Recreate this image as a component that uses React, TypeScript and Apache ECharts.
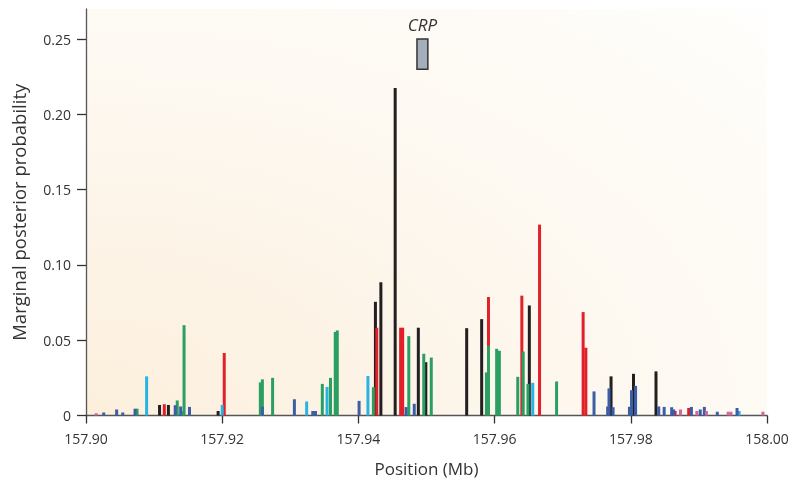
import React, { useEffect, useRef } from "react";
import * as echarts from "echarts";

const xTicks = [157.9, 157.92, 157.94, 157.96, 157.98, 158.0];
const yTicks = [0, 0.05, 0.1, 0.15, 0.2, 0.25];

const blackPos = [157.9108, 157.9121, 157.9194, 157.9425, 157.9433, 157.9454, 157.9488, 157.9499, 157.9559, 157.9581, 157.9651, 157.9771, 157.9804, 157.9837];
const blackVal = [0.007, 0.007, 0.003, 0.0755, 0.0885, 0.2176, 0.0583, 0.0354, 0.058, 0.064, 0.0731, 0.026, 0.0277, 0.0293];

const redPos = [157.9115, 157.9203, 157.9427, 157.9462, 157.9465, 157.9591, 157.964, 157.9666, 157.973, 157.9734, 157.9865, 157.9885];
const redVal = [0.0075, 0.0415, 0.0583, 0.0583, 0.0583, 0.0787, 0.0796, 0.1268, 0.0687, 0.045, 0.003, 0.005];

const greenPos = [157.9075, 157.9134, 157.9142, 157.9144, 157.9256, 157.9259, 157.9274, 157.9347, 157.9359, 157.9366, 157.9369, 157.9422, 157.9474, 157.9496, 157.9507, 157.9588, 157.9591, 157.9603, 157.9607, 157.9634, 157.9642, 157.9649, 157.9691];
const greenVal = [0.0045, 0.01, 0.003, 0.06, 0.022, 0.024, 0.025, 0.021, 0.025, 0.0555, 0.0565, 0.0188, 0.0527, 0.041, 0.0385, 0.0286, 0.0463, 0.0443, 0.043, 0.0257, 0.0425, 0.021, 0.0226];

const cyanPos = [157.9089, 157.92, 157.9324, 157.9354, 157.9414, 157.9656, 157.9959];
const cyanVal = [0.026, 0.007, 0.0093, 0.019, 0.0262, 0.0217, 0.003];

const bluePos = [157.9026, 157.9045, 157.9054, 157.9072, 157.9131, 157.9139, 157.9152, 157.9259, 157.9306, 157.9333, 157.9337, 157.9401, 157.947, 157.9482, 157.9746, 157.9766, 157.9768, 157.9774, 157.9798, 157.9801, 157.9807, 157.9841, 157.9849, 157.986, 157.9863, 157.9889, 157.9902, 157.9908, 157.9927, 157.9956];
const blueVal = [0.002, 0.004, 0.002, 0.0045, 0.0068, 0.006, 0.0057, 0.0058, 0.0108, 0.003, 0.003, 0.0097, 0.0056, 0.0078, 0.016, 0.006, 0.018, 0.0055, 0.0058, 0.0168, 0.0197, 0.006, 0.0057, 0.0055, 0.004, 0.0057, 0.004, 0.0057, 0.0025, 0.005];

const pinkPos = [157.9015, 157.9873, 157.9897, 157.9911, 157.9943, 157.9947, 157.9994];
const pinkVal = [0.0015, 0.004, 0.003, 0.003, 0.0025, 0.0025, 0.0025];

const geneName = "CRP";
const geneStart = 157.9486;
const geneEnd = 157.9502;
const geneLow = 0.23;
const geneHigh = 0.25;

const zip = (p: number[], v: number[]) => p.map((x, i) => [x, v[i]]);

const FONT = "'Open Sans', 'Noto Sans', sans-serif";

export default function App() {
  const ref = useRef<HTMLDivElement>(null);
  useEffect(() => {
    document.body.style.margin = "0";
    const chart = echarts.init(ref.current!, null, { renderer: "svg" });
    const groups = [
      { name: "black", color: "#231f20", data: zip(blackPos, blackVal) },
      { name: "red", color: "#e2202a", data: zip(redPos, redVal) },
      { name: "green", color: "#2a9f62", data: zip(greenPos, greenVal) },
      { name: "cyan", color: "#27b4e4", data: zip(cyanPos, cyanVal) },
      { name: "blue", color: "#3b5ea6", data: zip(bluePos, blueVal) },
      { name: "pink", color: "#d2649e", data: zip(pinkPos, pinkVal) },
    ];
    const series: any[] = groups.map((g, i) => ({
      type: "bar",
      name: g.name,
      data: g.data,
      barWidth: 3,
      barGap: "-100%",
      itemStyle: { color: g.color },
      z: 2 + i,
      silent: true,
    }));
    series[0].markArea = {
      silent: true,
      itemStyle: { color: "#a3aeba", borderColor: "#333333", borderWidth: 1.5 },
      label: {
        show: true,
        position: "top",
        distance: 5,
        fontStyle: "italic",
        fontSize: 17,
        color: "#333333",
        fontFamily: FONT,
      },
      data: [[{ name: geneName, coord: [geneStart, geneHigh] }, { coord: [geneEnd, geneLow] }]],
    };
    chart.setOption({
      animation: false,
      grid: {
        left: 86,
        right: 22,
        top: 9,
        bottom: 65.5,
        outerBoundsMode: "none",
        containLabel: false,
        show: true,
        borderWidth: 0,
        backgroundColor: new echarts.graphic.RadialGradient(0, 1, 1.75, [
          { offset: 0, color: "#fcefdc" },
          { offset: 0.4, color: "#fdf7ee" },
          { offset: 0.8, color: "#fffefc" },
          { offset: 1, color: "#ffffff" },
        ]),
      },
      xAxis: {
        type: "value",
        min: 157.9,
        max: 158.0,
        name: "Position (Mb)",
        nameLocation: "middle",
        nameGap: 44,
        nameTextStyle: { fontSize: 17, color: "#333333", fontFamily: FONT },
        axisLine: { show: true, lineStyle: { color: "#555555", width: 1.3 } },
        axisTick: { show: true, length: 8, lineStyle: { color: "#333333", width: 1.3 }, customValues: xTicks },
        axisLabel: {
          fontSize: 14,
          color: "#333333",
          margin: 16,
          fontFamily: FONT,
          customValues: xTicks,
          formatter: (v: number) => v.toFixed(2),
        },
        splitLine: { show: false },
      },
      yAxis: {
        type: "value",
        min: 0,
        max: 0.27,
        name: "Marginal posterior probability",
        nameLocation: "middle",
        nameGap: 58,
        nameTextStyle: { fontSize: 18.5, color: "#333333", fontFamily: FONT },
        axisLine: { show: true, lineStyle: { color: "#555555", width: 1.3 } },
        axisTick: { show: true, length: 9, lineStyle: { color: "#333333", width: 1.3 }, customValues: yTicks },
        axisLabel: {
          fontSize: 14,
          color: "#333333",
          margin: 15,
          fontFamily: FONT,
          customValues: yTicks,
          formatter: (v: number) => (v === 0 ? "0" : v.toFixed(2)),
        },
        splitLine: { show: false },
      },
      series,
    });
    return () => chart.dispose();
  }, []);
  return <div ref={ref} style={{ position: "fixed", left: 0, top: 0, width: 789, height: 481 }} />;
}
